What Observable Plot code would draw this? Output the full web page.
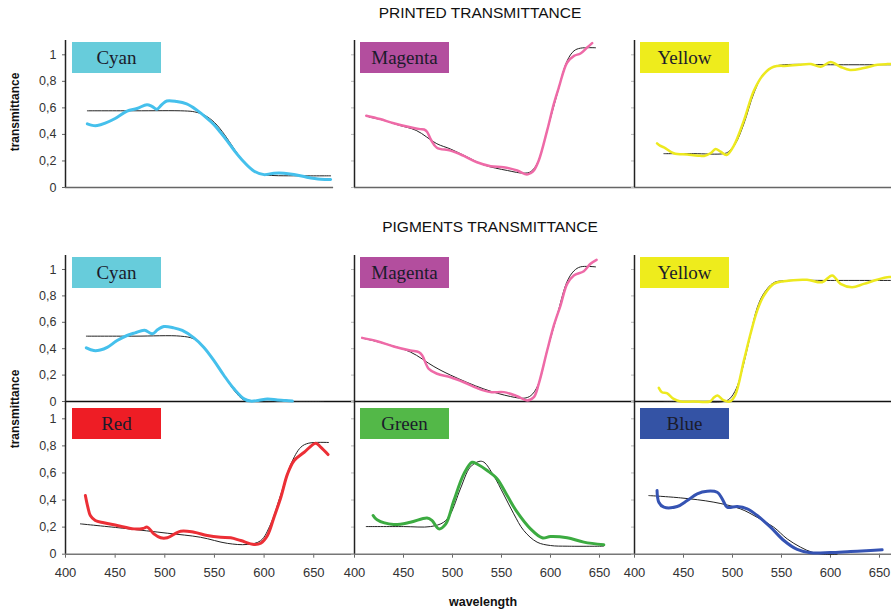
<!DOCTYPE html>
<html><head><meta charset="utf-8">
<script src="https://cdn.jsdelivr.net/npm/d3@7"></script>
<script src="https://cdn.jsdelivr.net/npm/@observablehq/plot@0.6"></script>
<style>
html,body{margin:0;padding:0;background:#fff;overflow:hidden;}
#chart{position:relative;width:891px;height:612px;overflow:hidden;font-family:"Liberation Sans",Arial,sans-serif;}
.panel{position:absolute;}
.panel svg{max-width:none !important;}
.title{position:absolute;font-size:15.5px;line-height:16px;color:#111;transform:translateX(-50%);white-space:nowrap;}
.xlab{position:absolute;font-size:12.5px;line-height:14px;font-weight:bold;color:#111;transform:translateX(-50%);white-space:nowrap;}
.ylab{position:absolute;font-size:12px;line-height:14px;font-weight:bold;color:#111;transform:translate(-50%,-50%) rotate(-90deg);white-space:nowrap;}
.box{position:absolute;width:89px;height:31px;display:flex;align-items:center;justify-content:center;font-family:"Liberation Serif","Times New Roman",serif;font-size:19px;color:#1b1b2b;}
</style></head><body><div id="chart"></div><script>
// ---------- data (wavelength nm, transmittance) ----------
const titles = ["PRINTED TRANSMITTANCE", "PIGMENTS TRANSMITTANCE"];
const yTicks = [0, 0.2, 0.4, 0.6, 0.8, 1];
const xTicks = [400, 450, 500, 550, 600, 650];
const names = ["Cyan", "Magenta", "Yellow", "Cyan", "Magenta", "Yellow", "Red", "Green", "Blue"];

const printedCyan = [[422,0.48],[427,0.468],[432,0.467],[440,0.485],[450,0.52],[462,0.575],[472,0.595],[482,0.624],[487,0.612],[492,0.59],[497,0.625],[502,0.652],[512,0.648],[522,0.63],[532,0.585],[542,0.525],[550,0.47],[556,0.416],[563,0.35],[570,0.278],[580,0.19],[590,0.123],[600,0.097],[610,0.108],[620,0.108],[630,0.098],[643,0.078],[657,0.063],[667,0.06]];
const printedCyanFit = [[422,0.578],[470,0.578],[520,0.577],[530,0.57],[540,0.545],[550,0.49],[560,0.40],[570,0.29],[580,0.19],[590,0.125],[600,0.097],[610,0.09],[630,0.088],[667,0.088]];

const printedMagenta = [[412,0.541],[426,0.516],[440,0.484],[457,0.454],[467,0.44],[471,0.437],[474,0.42],[478,0.36],[484,0.30],[498,0.278],[511,0.24],[525,0.19],[539,0.16],[552,0.153],[566,0.128],[576,0.098],[580,0.11],[583,0.128],[588,0.203],[596.6,0.43],[603.4,0.63],[608.5,0.754],[617,0.942],[624,0.992],[630.6,1.01],[637.4,1.055],[642.5,1.088]];
const printedMagentaFit = [[415,0.53],[428,0.51],[445,0.47],[463,0.43],[484,0.33],[498,0.29],[515,0.23],[532,0.17],[556,0.128],[573,0.108],[580,0.12],[587,0.19],[596.6,0.43],[606.8,0.705],[617,0.955],[624,1.03],[630.6,1.05],[646,1.053]];

const printedYellow = [[423,0.333],[426,0.315],[430,0.303],[440,0.258],[454,0.248],[465,0.24],[471,0.238],[478,0.26],[482.7,0.29],[487.8,0.27],[494,0.245],[501.4,0.316],[511.6,0.504],[521.8,0.729],[532,0.855],[542,0.91],[556,0.917],[568,0.925],[580,0.93],[590,0.91],[600,0.945],[610,0.91],[620,0.885],[634,0.9],[648,0.925],[658,0.93],[665,0.93]];
const printedYellowFit = [[430,0.255],[460,0.255],[491,0.255],[496,0.27],[503,0.33],[511.6,0.48],[521.8,0.71],[532,0.86],[542,0.91],[553,0.925],[600,0.925],[665,0.925]];

const pigmentCyan = [[421,0.407],[428.5,0.386],[435,0.39],[442,0.41],[452,0.462],[462,0.5],[470,0.52],[479.6,0.54],[487.4,0.513],[493,0.545],[499,0.568],[509,0.558],[517.6,0.538],[529.3,0.482],[539.4,0.41],[549.5,0.31],[559.6,0.197],[569.7,0.096],[579.8,0.02],[586.5,0.003],[595,0.01],[603.3,0.018],[613.4,0.012],[622,0.008],[628.5,0.003]];
const pigmentCyanFit = [[421,0.495],[470,0.495],[516,0.495],[529,0.475],[539,0.415],[548,0.33],[559.6,0.2],[569.7,0.085],[579.8,0.01],[590,0],[620,0],[660,0]];

const pigmentMagenta = [[407.8,0.482],[423,0.457],[440,0.417],[457,0.386],[465.6,0.374],[469,0.35],[475.8,0.247],[484.4,0.21],[498,0.184],[511.6,0.146],[525.2,0.101],[538.8,0.071],[552.4,0.071],[566,0.04],[576.2,0.008],[583,0.033],[588,0.134],[596.6,0.386],[603.4,0.576],[610.2,0.727],[617,0.891],[623.8,0.955],[634,0.987],[640.8,1.043],[647,1.073]];
const pigmentMagentaFit = [[408,0.48],[430,0.44],[457,0.375],[481,0.265],[498,0.2],[532,0.095],[559,0.038],[573,0.025],[580,0.045],[587,0.12],[596.6,0.386],[607,0.66],[617,0.91],[624,0.99],[630.6,1.02],[646,1.02]];

const pigmentYellow = [[424.8,0.103],[428,0.07],[433,0.063],[440,0.02],[447,0],[460,0],[477,0],[481,0.03],[484.7,0.045],[490.8,0.01],[497,0],[502.5,0.045],[511.6,0.31],[518.4,0.513],[525.2,0.689],[532,0.803],[542,0.891],[552.4,0.911],[576,0.922],[591.5,0.904],[601.7,0.955],[610.2,0.891],[622,0.866],[634,0.891],[647.6,0.922],[657.9,0.942],[665,0.94]];
const pigmentYellowFit = [[430,0],[460,0],[491,0],[497,0.02],[504,0.1],[511.6,0.29],[518.4,0.51],[525.2,0.71],[532,0.82],[542,0.9],[552.4,0.915],[600,0.917],[665,0.917]];

const pigmentRed = [[420,0.433],[422.5,0.347],[425,0.286],[430,0.249],[438.6,0.232],[452,0.212],[468.9,0.187],[478,0.19],[482.3,0.2],[489,0.15],[495.8,0.121],[502.5,0.121],[516,0.17],[529.5,0.162],[542.8,0.138],[556.3,0.125],[566.4,0.121],[576.4,0.101],[589.9,0.072],[596.6,0.081],[603.4,0.138],[610,0.273],[616.9,0.421],[623.6,0.593],[630.3,0.692],[640.4,0.753],[652,0.82],[657,0.79],[664.4,0.736]];
const pigmentRedFit = [[415,0.224],[460,0.19],[502.5,0.155],[536,0.125],[563,0.08],[583,0.072],[596.6,0.1],[606.7,0.224],[617,0.445],[627,0.666],[637,0.79],[645,0.82],[665,0.825]];

const pigmentGreen = [[419,0.286],[423,0.254],[440,0.219],[457,0.236],[474,0.268],[479,0.25],[486,0.187],[493,0.222],[501.4,0.396],[511.6,0.593],[520,0.679],[525,0.666],[535.4,0.618],[545.6,0.556],[555.8,0.433],[566,0.31],[579.6,0.187],[591.5,0.121],[600,0.13],[617,0.121],[634,0.089],[654.4,0.069]];
const pigmentGreenFit = [[412,0.204],[450,0.204],[477.6,0.204],[491,0.236],[498,0.298],[508,0.482],[518,0.642],[527,0.685],[532,0.68],[542,0.58],[552,0.445],[562.5,0.298],[572.7,0.175],[586.3,0.089],[600,0.064],[617,0.059],[654,0.059]];

const pigmentBlue = [[423,0.47],[424.8,0.384],[430,0.347],[443.6,0.352],[453.8,0.396],[464,0.446],[474.2,0.465],[484.4,0.457],[489.5,0.409],[494.6,0.347],[504.8,0.352],[515,0.335],[525.2,0.286],[538.8,0.2],[552.4,0.101],[566,0.035],[579.6,0.01],[600,0.012],[620.4,0.02],[640.8,0.027],[652.7,0.032]];
const pigmentBlueFit = [[414.6,0.433],[446.9,0.416],[481,0.384],[508,0.335],[525,0.273],[542,0.2],[555.8,0.113],[569.4,0.052],[581,0.015],[593,0],[606.8,0]];

const measured = [printedCyan, printedMagenta, printedYellow, pigmentCyan, pigmentMagenta, pigmentYellow, pigmentRed, pigmentGreen, pigmentBlue];
const fits = [printedCyanFit, printedMagentaFit, printedYellowFit, pigmentCyanFit, pigmentMagentaFit, pigmentYellowFit, pigmentRedFit, pigmentGreenFit, pigmentBlueFit];

// ---------- styles / layout ----------
const lineColors = ["#45C0EC","#EE6AA7","#EDE91F","#45C0EC","#EE6AA7","#EDE91F","#EC2F36","#3CAB41","#3553B3"];
const lineWidths = [3,2.5,2.5,3,2.5,2.5,3,3,3];
const boxColors = ["#67CCDB","#B34E9E","#EEEC1C","#67CCDB","#B34E9E","#EEEC1C","#EE1D25","#53B848","#3453A5"];
const cols = [{x0:65,w:289,k:0.993},{x0:354,w:280,k:0.98},{x0:634,w:280,k:0.98}];
const rows = [{top:40,h:147,ppu:132.7,bottom:"#666"},{top:255,h:146,ppu:132,bottom:"#111"},{top:401,h:152.7,ppu:135.4,bottom:"#777"}];
const mL=45, mR=10, mT=2, mB=40;

const chart = document.getElementById("chart");
function addDiv(cls, text, css){const d=document.createElement("div");d.className=cls;d.textContent=text;Object.assign(d.style,css);chart.appendChild(d);return d;}

for (let i = 0; i < 9; i++) {
  const r = Math.floor(i/3), c = i%3;
  const C = cols[c], R = rows[r];
  const xMax = 400 + C.w/C.k;
  const yMax = R.h/R.ppu;
  const hasX = r === 2;
  const marks = [];
  if (c === 0) {
    marks.push(Plot.axisY({ticks: yTicks, tickFormat: d => String(d).replace(".", ","), tickSize: 3, tickPadding: 6, fontSize: 12.5, stroke: "#666", fill: "#333"}));
  } else {
    marks.push(Plot.axisY({ticks: yTicks, tickFormat: () => "", tickSize: 3, stroke: "#bbb"}));
  }
  if (hasX) marks.push(Plot.axisX({ticks: xTicks, tickSize: 4, tickPadding: 10, fontSize: 13, stroke: "#666", fill: "#333"}));
  const xEnd = (r === 0 && c === 0) ? 670 : xMax;
  marks.push(Plot.ruleY([0], {x1: 400, x2: xEnd, stroke: R.bottom, strokeWidth: 1.5}));
  marks.push(Plot.ruleX([400], {y1: 0, y2: yMax, stroke: "#222", strokeWidth: 1.5}));
  marks.push(Plot.line(fits[i], {x: d => d[0], y: d => d[1], stroke: "#222", strokeWidth: 1, curve: "catmull-rom"}));
  marks.push(Plot.line(measured[i], {x: d => d[0], y: d => d[1], stroke: lineColors[i], strokeWidth: lineWidths[i], curve: "catmull-rom", strokeLinecap: "round", strokeLinejoin: "round"}));
  const W = mL + C.w + mR, H = mT + R.h + mB;
  const svg = Plot.plot({
    width: W, height: H,
    marginLeft: mL, marginRight: mR, marginTop: mT, marginBottom: mB,
    x: {domain: [400, xMax], axis: hasX ? undefined : null},
    y: {domain: [0, yMax]},
    style: {background: "transparent", overflow: "visible", maxWidth: "none", fontFamily: "'Liberation Sans', Arial, sans-serif"},
    marks
  });
  svg.style.width = W + "px";
  svg.style.height = H + "px";
  const wrap = document.createElement("div");
  wrap.className = "panel";
  wrap.style.left = (C.x0 - mL) + "px";
  wrap.style.top = (R.top - mT) + "px";
  wrap.style.width = W + "px";
  wrap.style.height = H + "px";
  wrap.appendChild(svg);
  chart.appendChild(wrap);
}

// labels
const boxX = [72, 360, 640], boxY = [42, 257, 408];
for (let i = 0; i < 9; i++) {
  const r = Math.floor(i/3), c = i%3;
  addDiv("box", names[i], {left: boxX[c]+"px", top: boxY[r]+"px", background: boxColors[i]});
}
addDiv("title", titles[0], {left: "480px", top: "5px"});
addDiv("title", titles[1], {left: "490px", top: "219px"});
addDiv("ylab", "transmittance", {left: "15px", top: "112px"});
addDiv("ylab", "transmittance", {left: "15px", top: "409px"});
addDiv("xlab", "wavelength", {left: "483px", top: "595px"});
</script></body></html>
